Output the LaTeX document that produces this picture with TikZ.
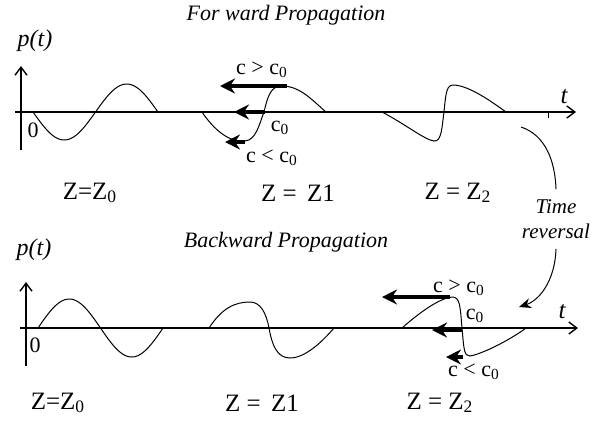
\documentclass[tikz,border=0pt]{standalone}
\usepackage{fontspec}
\setmainfont{Liberation Serif}
\usetikzlibrary{arrows.meta}
\begin{document}
\begin{tikzpicture}[x=0.5pt,y=-0.5pt,
  axis/.style={line width=0.7pt,-{Straight Barb[length=4pt,width=6pt]}},
  wave/.style={line width=0.5pt},
  bigarrow/.style={line width=1.6pt,-{Stealth[length=7.5pt,width=7.5pt,inset=2.5pt]}},
  lbl/.style={font=\fontsize{11}{13}\selectfont, inner sep=0pt},
  zlbl/.style={font=\fontsize{12.5}{15}\selectfont, inner sep=0pt},
  ttl/.style={font=\fontsize{11}{13}\selectfont\itshape, inner sep=0pt},
  plbl/.style={font=\fontsize{12}{14}\selectfont\itshape, inner sep=0pt},
  tlbl/.style={font=\fontsize{12.5}{15}\selectfont\itshape, inner sep=0pt},
]
\useasboundingbox (0,0) rectangle (608,424);
% ---------- top panel ----------
\node[ttl] (fwd) at (286,15) {For ward Propagation};
\node[plbl] (p1) at (35,41) {p(t)};
\coordinate (h1s) at (15,112); \coordinate (h1e) at (576,112);
\coordinate (v1s) at (21,150); \coordinate (v1e) at (21,66);
\draw[axis] (h1s) -- (h1e);
\draw[axis] (v1s) -- (v1e);
\node[tlbl] (t1) at (564,97) {t};
\node[lbl] (o1) at (33,130) {0};
\coordinate (tk1) at (548,112); \coordinate (tk2) at (548,118);
\draw[line width=0.5pt] (tk1) -- (tk2);
\draw[wave] plot[domain=0:1,samples=80] ({33+125*\x},{112+28*sin(360*\x)});
\draw[wave] (202,112) .. controls (214,130) and (230,143) .. (245,141)
  .. controls (256,140) and (259,125) .. (264,112)
  .. controls (268,95) and (271,86) .. (282,86)
  .. controls (300,86) and (312,100) .. (326,112);
\draw[wave] (382,112) .. controls (405,124) and (425,140) .. (434,141)
  .. controls (442,142) and (442,125) .. (444,112)
  .. controls (446,90) and (447,85) .. (454,85)
  .. controls (470,86) and (492,102) .. (506,112);
\coordinate (a1s) at (287,86); \coordinate (a1e) at (220,86);
\coordinate (a2s) at (265,112); \coordinate (a2e) at (234,112);
\coordinate (a3s) at (245,142); \coordinate (a3e) at (225,142);
\draw[bigarrow] (a1s) -- (a1e);
\draw[bigarrow] (a2s) -- (a2e);
\draw[bigarrow] (a3s) -- (a3e);
\node[lbl] (cg1) at (262,70) {c > c\textsubscript{0}};
\node[lbl] (ce1) at (280,128) {c\textsubscript{0}};
\node[lbl] (cl1) at (272,158) {c < c\textsubscript{0}};
\node[zlbl] (z01) at (90,193) {Z=Z\textsubscript{0}};
\node[zlbl] (z11) at (298,193) {Z =\, Z1};
\node[zlbl] (z21) at (458,193) {Z = Z\textsubscript{2}};
% ---------- time reversal ----------
\node[ttl,align=center,inner sep=5pt,font=\fontsize{10.5}{12.5}\selectfont\itshape] (tr) at (556,219) {Time\\reversal};
\coordinate (r1) at (521,127); \coordinate (r2) at (519,307);
\draw[wave] (r1) .. controls (545,135) and (555,160) .. (tr.north);
\draw[wave,-{Stealth[length=6pt,width=5pt]}] (tr.south) .. controls (555,280) and (540,300) .. (r2);
% ---------- bottom panel ----------
\node[ttl] (bwd) at (286,242) {Backward Propagation};
\node[plbl] (p2) at (34,250) {p(t)};
\coordinate (h2s) at (20,328); \coordinate (h2e) at (578,328);
\coordinate (v2s) at (26,366); \coordinate (v2e) at (26,282);
\draw[axis] (h2s) -- (h2e);
\draw[axis] (v2s) -- (v2e);
\node[tlbl] (t2) at (562,312) {t};
\node[lbl] (o2) at (35,345) {0};
\draw[wave] plot[domain=0:1,samples=80] ({38+125*\x},{328-29*sin(360*\x)});
\draw[wave] (209,328) .. controls (222,308) and (235,302) .. (250,302)
  .. controls (260,302) and (266,312) .. (269,328)
  .. controls (272,345) and (277,358) .. (290,358)
  .. controls (305,358) and (322,342) .. (334,328);
\draw[wave] (402,328) .. controls (420,312) and (440,298) .. (452,297)
  .. controls (460,297) and (460,305) .. (462,328)
  .. controls (464,350) and (464,356) .. (470,356)
  .. controls (482,354) and (510,340) .. (526,328);
\coordinate (b1s) at (450,297); \coordinate (b1e) at (382,297);
\coordinate (b2s) at (462,330); \coordinate (b2e) at (432,330);
\coordinate (b3s) at (463,357); \coordinate (b3e) at (446,357);
\draw[bigarrow] (b1s) -- (b1e);
\draw[bigarrow] (b2s) -- (b2e);
\draw[bigarrow] (b3s) -- (b3e);
\node[lbl] (cg2) at (459,288) {c > c\textsubscript{0}};
\node[lbl] (ce2) at (475,316) {c\textsubscript{0}};
\node[lbl] (cl2) at (474,372) {c < c\textsubscript{0}};
\node[zlbl] (z02) at (58,403) {Z=Z\textsubscript{0}};
\node[zlbl] (z12) at (262,403) {Z =\, Z1};
\node[zlbl] (z22) at (440,403) {Z = Z\textsubscript{2}};
\end{tikzpicture}
\end{document}
